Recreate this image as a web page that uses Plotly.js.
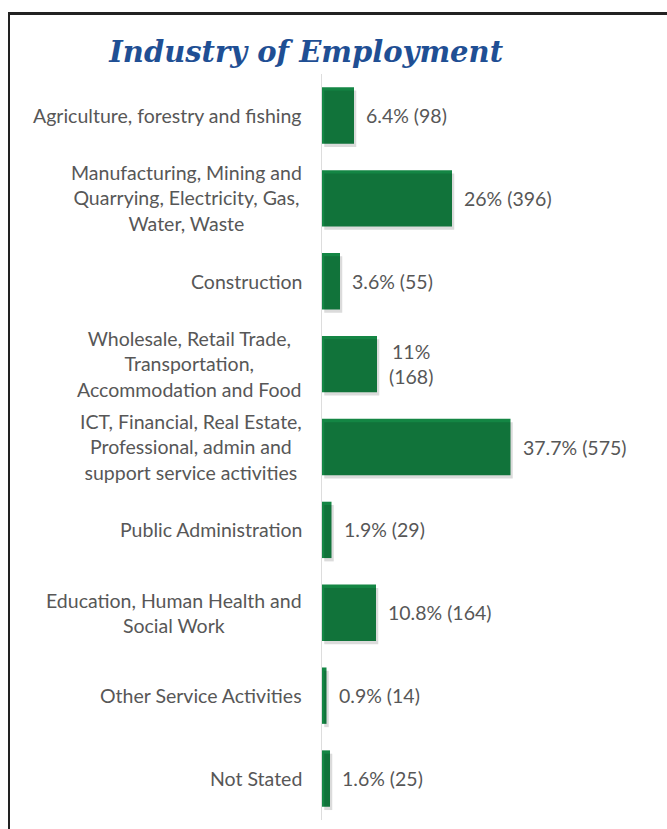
<!DOCTYPE html>
<html>
<head>
<meta charset="utf-8">
<script src="https://cdn.plot.ly/plotly-3.0.1.min.js"></script>
<style>
  html, body { margin: 0; padding: 0; background: #fff; }
  #wrap { position: relative; width: 667px; height: 829px; overflow: hidden; }
  #chart { position: absolute; left: 0; top: 0; width: 667px; height: 829px; }
  #frame { position: absolute; left: 8px; top: 12px; width: 680px; height: 840px;
           border-top: 3px solid #222; border-left: 2px solid #222; pointer-events: none; }
</style>
</head>
<body>
<div id="wrap">
  <div id="chart"></div>
  <div id="frame"></div>
</div>
<script>
const categories = [
  "Agriculture, forestry and fishing",
  "Manufacturing, Mining and<br>Quarrying, Electricity, Gas,<br>Water, Waste",
  "Construction",
  "Wholesale, Retail Trade,<br>Transportation,<br>Accommodation and Food",
  "ICT, Financial, Real Estate,<br>Professional, admin and<br>support service activities",
  "Public Administration",
  "Education, Human Health and<br>Social Work",
  "Other Service Activities",
  "Not Stated"
];
const percents = [6.4, 26, 3.6, 11, 37.7, 1.9, 10.8, 0.9, 1.6];
const counts = [98, 396, 55, 168, 575, 29, 164, 14, 25];
const valueLabels = ["6.4% (98)", "26% (396)", "3.6% (55)", "11%<br>(168)", "37.7% (575)",
                     "1.9% (29)", "10.8% (164)", "0.9% (14)", "1.6% (25)"];

const ids = categories.map((c, i) => "c" + i);
const gray = "#575757";
const labelFont = { family: "Lato, 'Noto Sans', sans-serif", size: 19.5, color: gray };
const valueFont = { family: "Lato, 'Noto Sans', sans-serif", size: 19.5, color: gray };

const shadow = {
  type: "bar", orientation: "h", x: percents, y: ids,
  xaxis: "x2", yaxis: "y2",
  marker: { color: "rgba(0,0,0,0.14)" }, hoverinfo: "skip", showlegend: false
};
const bars = {
  type: "bar", orientation: "h", x: percents, y: ids,
  marker: { color: "#148644" }, hoverinfo: "skip", showlegend: false
};

const annotations = [];
categories.forEach((c, i) => {
  annotations.push({
    xref: "paper", yref: "y", x: 0, y: ids[i], xanchor: "right", yanchor: "middle",
    xshift: -18, text: c, align: "center", showarrow: false, font: labelFont
  });
  annotations.push({
    xref: "x", yref: "y", x: percents[i], y: ids[i], xanchor: "left", yanchor: "middle",
    xshift: 10, text: valueLabels[i], align: "center", showarrow: false, font: valueFont
  });
});

const layout = {
  width: 667, height: 829,
  margin: { l: 322, r: 5, t: 74, b: 9 },
  paper_bgcolor: "#fff", plot_bgcolor: "#fff",
  bargap: 0.32,
  title: {
    text: "Industry of Employment",
    xref: "container", yref: "container", x: 0.459, y: 0.937, xanchor: "center", yanchor: "middle",
    font: { family: "'DejaVu Serif', serif", size: 29, color: "#1f4f94", weight: "bold", style: "italic" }
  },
  xaxis: { range: [0, 68], visible: false, fixedrange: true },
  yaxis: {
    type: "category", categoryarray: ids, range: [8.5, -0.5],
    showticklabels: false, showgrid: false, zeroline: false,
    showline: true, linecolor: "#dddddd", linewidth: 1, ticks: "", fixedrange: true
  },
  xaxis2: { range: [-0.45, 67.55], visible: false, overlaying: "x", fixedrange: true },
  yaxis2: { type: "category", categoryarray: ids, range: [8.46, -0.54], visible: false, overlaying: "y", fixedrange: true },
  annotations: annotations
};

Plotly.newPlot("chart", [shadow, bars], layout, { staticPlot: true, displayModeBar: false });
</script>
</body>
</html>
